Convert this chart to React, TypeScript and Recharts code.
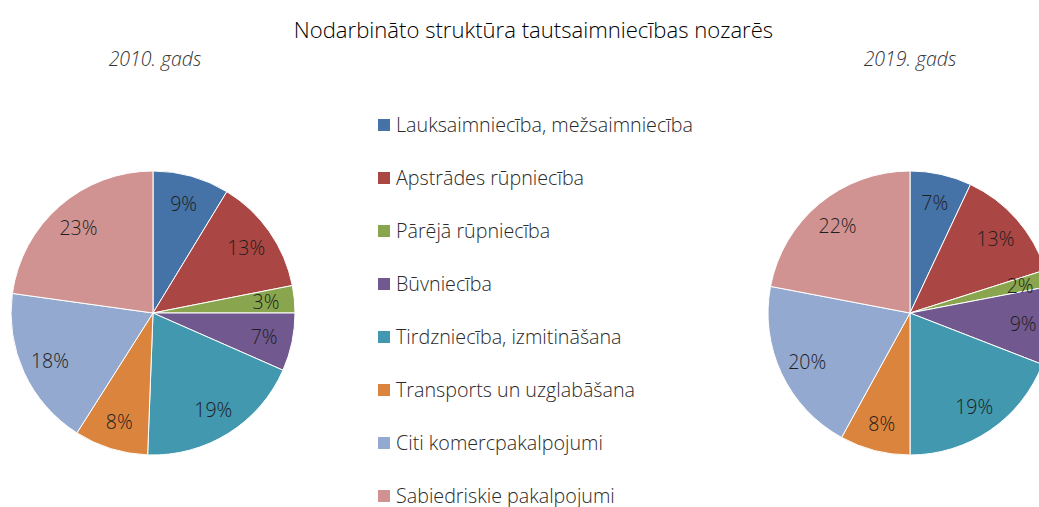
import React from "react";
import { PieChart, Pie, Cell, Legend } from "recharts";

if (typeof document !== "undefined") {
  document.body.style.margin = "0";
}

const categories = [
  "Lauksaimniecība, mežsaimniecība",
  "Apstrādes rūpniecība",
  "Pārējā rūpniecība",
  "Būvniecība",
  "Tirdzniecība, izmitināšana",
  "Transports un uzglabāšana",
  "Citi komercpakalpojumi",
  "Sabiedriskie pakalpojumi",
];

const values2010 = [8.7, 13.2, 3.1, 6.6, 19.0, 8.4, 18.2, 22.8];
const values2019 = [7.0, 13.1, 1.9, 8.9, 19.1, 8.0, 20.0, 22.0];

const colors = [
  "#4572A7",
  "#AA4643",
  "#89A54E",
  "#71588F",
  "#4198AF",
  "#DB843D",
  "#93A9CF",
  "#D19392",
];

const title = "Nodarbināto struktūra tautsaimniecības nozarēs";
const subtitle2010 = "2010. gads";
const subtitle2019 = "2019. gads";

const FONT = "'Open Sans', 'Noto Sans', sans-serif";

const data2010 = categories.map((name, i) => ({ name, value: values2010[i] }));
const data2019 = categories.map((name, i) => ({ name, value: values2019[i] }));

const RAD = Math.PI / 180;

const renderLabel = (props: any) => {
  const { cx, cy, midAngle, outerRadius, value } = props;
  const r = outerRadius * 0.8;
  const x = cx + r * Math.cos(-midAngle * RAD);
  const y = cy + r * Math.sin(-midAngle * RAD);
  return (
    <text
      x={x}
      y={y}
      fill="#1e1e1e"
      textAnchor="middle"
      dominantBaseline="central"
      style={{ fontFamily: FONT, fontSize: 19.5, fontWeight: 300 }}
    >
      {`${Math.round(value)}%`}
    </text>
  );
};

const LegendContent = () => (
  <div style={{ fontFamily: FONT }}>
    {categories.map((c, i) => (
      <div
        key={c}
        style={{
          display: "flex",
          alignItems: "center",
          height: 53,
          whiteSpace: "nowrap",
        }}
      >
        <div
          style={{
            width: 12,
            height: 12,
            background: colors[i],
            marginRight: 6,
          }}
        />
        <span style={{ fontSize: 19.7, fontWeight: 300, color: "#2a2a2a" }}>{c}</span>
      </div>
    ))}
  </div>
);

export default function App() {
  return (
    <div
      style={{
        position: "relative",
        width: 1039,
        height: 507,
        overflow: "hidden",
        background: "#fff",
      }}
    >
      <PieChart width={1039} height={507}>
        <Pie
          data={data2010}
          dataKey="value"
          nameKey="name"
          cx={148}
          cy={308}
          outerRadius={142}
          startAngle={90}
          endAngle={-270}
          stroke="#ffffff"
          strokeWidth={1}
          label={renderLabel}
          labelLine={false}
          isAnimationActive={false}
        >
          {data2010.map((d, i) => (
            <Cell key={d.name} fill={colors[i]} />
          ))}
        </Pie>
        <Pie
          data={data2019}
          dataKey="value"
          nameKey="name"
          cx={905}
          cy={308}
          outerRadius={142}
          startAngle={90}
          endAngle={-270}
          stroke="#ffffff"
          strokeWidth={1}
          label={renderLabel}
          labelLine={false}
          isAnimationActive={false}
        >
          {data2019.map((d, i) => (
            <Cell key={d.name} fill={colors[i]} />
          ))}
        </Pie>
        <Legend
          content={<LegendContent />}
          wrapperStyle={{ position: "absolute", left: 378, top: 98, width: 420 }}
        />
      </PieChart>
      <div
        style={{
          position: "absolute",
          left: 0,
          width: 1067,
          top: 14,
          textAlign: "center",
          fontFamily: FONT,
          fontSize: 22.1,
          fontWeight: 300,
          color: "#000",
          whiteSpace: "nowrap",
        }}
      >
        {title}
      </div>
      <div
        style={{
          position: "absolute",
          left: 55,
          width: 200,
          top: 45,
          textAlign: "center",
          fontFamily: FONT,
          fontSize: 19.5,
          fontWeight: 300,
          fontStyle: "italic",
          color: "#333",
        }}
      >
        {subtitle2010}
      </div>
      <div
        style={{
          position: "absolute",
          left: 810,
          width: 200,
          top: 45,
          textAlign: "center",
          fontFamily: FONT,
          fontSize: 19.5,
          fontWeight: 300,
          fontStyle: "italic",
          color: "#333",
        }}
      >
        {subtitle2019}
      </div>
    </div>
  );
}
